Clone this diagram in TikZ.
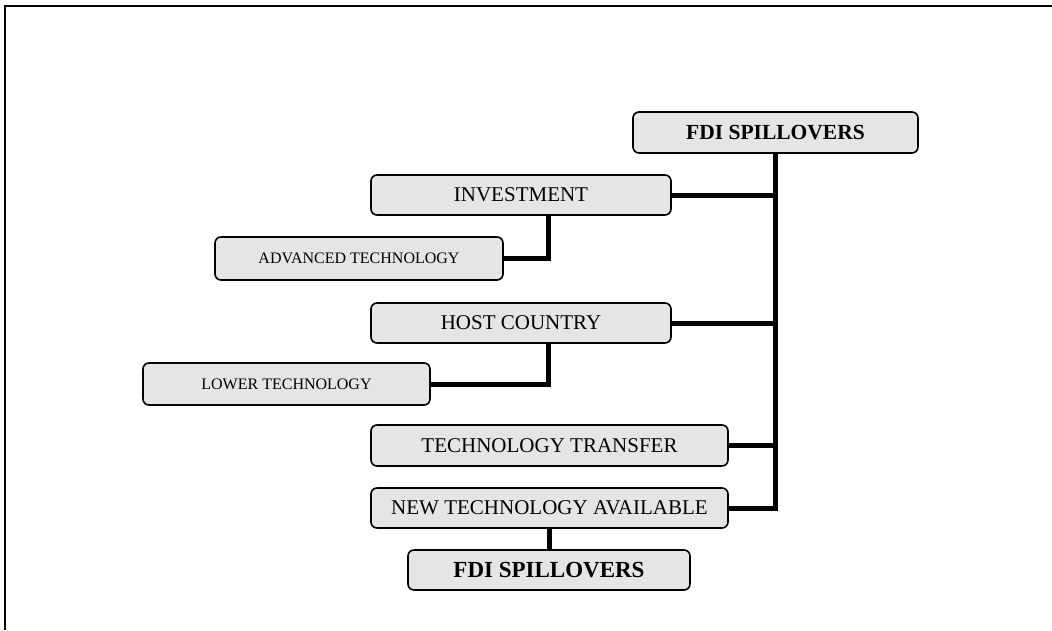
\documentclass[tikz,border=0pt]{standalone}
\usepackage{fontspec}
\setmainfont{Liberation Serif}
\begin{document}
\begin{tikzpicture}[x=1pt,y=-1pt,
  box/.style={draw=black,line width=1.6pt,rounded corners=6pt,fill=black!10,
    inner sep=0pt,anchor=center,font=\fontsize{21}{21}\selectfont},
  smallbox/.style={box,font=\fontsize{16}{16}\selectfont},
  conn/.style={line width=5pt,line cap=butt}]
\useasboundingbox (0,0) rectangle (1052,630);
\draw[line width=2.5pt] (1052,6) -- (5,6) -- (5,630);
\node[box,minimum width=285pt,minimum height=41pt,font=\bfseries\fontsize{21.5}{21.5}\selectfont] (top) at (775.5,132.5) {FDI SPILLOVERS};
\node[box,minimum width=300pt,minimum height=40pt] (inv) at (521,195) {INVESTMENT};
\node[smallbox,minimum width=288pt,minimum height=43pt] (adv) at (359,258.5) {ADVANCED TECHNOLOGY};
\node[box,minimum width=300pt,minimum height=40pt] (host) at (521,323) {HOST COUNTRY};
\node[smallbox,minimum width=287pt,minimum height=42pt] (low) at (286.5,384) {LOWER TECHNOLOGY};
\node[box,minimum width=357pt,minimum height=41pt] (tt) at (549.5,445.5) {TECHNOLOGY TRANSFER};
\node[box,minimum width=357pt,minimum height=40pt] (nta) at (549.5,508) {NEW TECHNOLOGY AVAILABLE};
\node[box,minimum width=282pt,minimum height=40pt,font=\bfseries\fontsize{23}{23}\selectfont] (bot) at (549,570) {FDI SPILLOVERS};
\coordinate (trunk) at (775,508);
\draw[conn] (top.south -| trunk) -- (trunk) -- (nta.east);
\draw[conn] (inv.east) -- (inv.east -| trunk);
\draw[conn] (host.east) -- (host.east -| trunk);
\draw[conn] (tt.east) -- (tt.east -| trunk);
\draw[conn] (inv.south -| 548,0) |- (adv.east);
\draw[conn] (host.south -| 548,0) |- (low.east);
\draw[conn] (nta.south -| bot.north) -- (bot.north);
\end{tikzpicture}
\end{document}
